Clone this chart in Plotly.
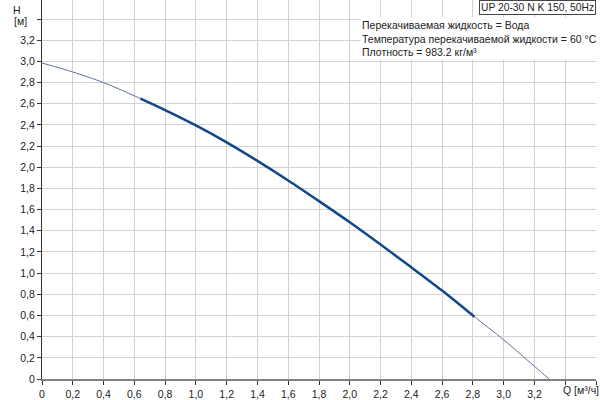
import plotly.graph_objects as go

# Full pump curve (thin)
q_full = [0, 0.2, 0.4, 0.6, 0.8, 1.0, 1.2, 1.4, 1.6, 1.8, 2.0, 2.2, 2.4, 2.6, 2.8, 3.0, 3.2, 3.296]
h_full = [2.985, 2.90, 2.80, 2.675, 2.54, 2.395, 2.235, 2.06, 1.875, 1.68, 1.48, 1.27, 1.055, 0.835, 0.60, 0.37, 0.12, 0.0]

# Operating range (thick)
q_duty = [0.64, 0.8, 1.0, 1.2, 1.4, 1.6, 1.8, 2.0, 2.2, 2.4, 2.6, 2.8, 2.81]
h_duty = [2.648, 2.54, 2.395, 2.235, 2.06, 1.875, 1.68, 1.48, 1.27, 1.055, 0.835, 0.60, 0.5885]

x_ticks = [0, 0.2, 0.4, 0.6, 0.8, 1.0, 1.2, 1.4, 1.6, 1.8, 2.0, 2.2, 2.4, 2.6, 2.8, 3.0, 3.2, 3.4, 3.6]
x_labels = ["0", "0,2", "0,4", "0,6", "0,8", "1,0", "1,2", "1,4", "1,6", "1,8", "2,0", "2,2", "2,4", "2,6",
            "2,8", "3,0", "3,2", "", ""]
y_ticks = [0, 0.2, 0.4, 0.6, 0.8, 1.0, 1.2, 1.4, 1.6, 1.8, 2.0, 2.2, 2.4, 2.6, 2.8, 3.0, 3.2, 3.4]
y_labels = ["0", "0,2", "0,4", "0,6", "0,8", "1,0", "1,2", "1,4", "1,6", "1,8", "2,0", "2,2", "2,4", "2,6",
            "2,8", "3,0", "3,2", ""]

title_text = "UP 20-30 N K 150, 50Hz"
info_lines = ["Перекачиваемая жидкость = Вода",
              "Температура перекачиваемой жидкости = 60 °C",
              "Плотность = 983.2 кг/м³"]

font_family = "Liberation Sans, Arial, sans-serif"

fig = go.Figure()
fig.add_trace(go.Scatter(x=q_full, y=h_full, mode="lines",
                         line=dict(color="rgb(95,115,155)", width=1, shape="spline", smoothing=0.8),
                         hoverinfo="skip"))
fig.add_trace(go.Scatter(x=q_duty, y=h_duty, mode="lines",
                         line=dict(color="rgb(18,72,138)", width=2.5, shape="spline", smoothing=0.8),
                         hoverinfo="skip"))

fig.update_layout(
    width=600, height=400,
    margin=dict(l=42, r=4, t=0, b=18),
    paper_bgcolor="white", plot_bgcolor="white",
    showlegend=False,
    font=dict(family=font_family, size=10.5, color="#222"),
    xaxis=dict(range=[0, 3.6], tickmode="array", tickvals=x_ticks, ticktext=x_labels,
               showgrid=True, gridcolor="#d2d2d2", gridwidth=1,
               showline=True, linecolor="#808080", linewidth=2,
               ticks="outside", ticklen=4, tickcolor="#333", tickwidth=1,
               zeroline=False, fixedrange=True),
    yaxis=dict(range=[0, 3.58], tickmode="array", tickvals=y_ticks, ticktext=y_labels,
               showgrid=True, gridcolor="#d2d2d2", gridwidth=1,
               showline=True, linecolor="#333", linewidth=1,
               ticks="outside", ticklen=4, tickcolor="#333", tickwidth=1,
               zeroline=False, fixedrange=True),
)

# Axis labels
fig.add_annotation(xref="paper", yref="paper", x=(17 - 42) / 554, y=1.0, yshift=-2,
                   xanchor="center", yanchor="top", text="H", showarrow=False,
                   font=dict(size=10.5, color="#222"))
fig.add_annotation(xref="paper", yref="paper", x=(20.5 - 42) / 554, y=1.0, yshift=-13,
                   xanchor="center", yanchor="top", text="[м]", showarrow=False,
                   font=dict(size=10.5, color="#222"))
fig.add_annotation(xref="x", yref="paper", x=3.5, y=0, yshift=-3, xanchor="center", yanchor="top",
                   text="Q [м³/ч]", showarrow=False, font=dict(size=10.5, color="#222"))

# Title box
fig.add_annotation(xref="paper", yref="paper", x=1.0, y=1.0, xanchor="right", yanchor="top",
                   text=title_text, showarrow=False, bgcolor="white",
                   bordercolor="#444", borderwidth=1, borderpad=1,
                   font=dict(size=10.3, color="#222"))

# Info text
fig.add_annotation(xref="paper", yref="paper", x=(360 - 42) / 554, y=1 - 17 / 382,
                   xanchor="left", yanchor="top", align="left",
                   text="<br>".join(info_lines), showarrow=False, bgcolor="white",
                   font=dict(size=10.5, color="#222"))

fig.write_html("out.html", config={"displayModeBar": False},
               post_script="document.body.style.margin='0';document.body.style.overflow='hidden';")
